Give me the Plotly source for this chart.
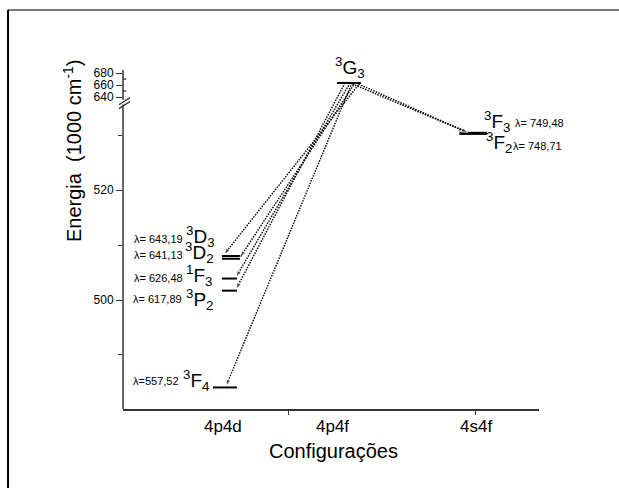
import plotly.graph_objects as go

# ---------------- data ----------------
configurations = ["4p4d", "4p4f", "4s4f"]

upper_term = "3G3"
upper_config = "4p4f"
upper_energy = 663.5  # 1000 cm-1

lower_terms = ["3D3", "3D2", "1F3", "3P2", "3F4", "3F3", "3F2"]
lower_configs = ["4p4d", "4p4d", "4p4d", "4p4d", "4p4d", "4s4f", "4s4f"]
lower_energies = [508.0, 507.5, 503.9, 501.7, 484.1, 530.4, 530.2]
wavelengths = ["643,19", "641,13", "626,48", "617,89", "557,52", "749,48", "748,71"]
lambda_sep = [" ", " ", " ", " ", "", " ", " "]

y_major = [500, 520, 640, 660, 680]
y_minor_lower = [490, 510, 530]
y_minor_upper = [650, 670]

# ---------------- broken axis mapping ----------------
UP_BASE, UP_SCALE = 536.9, 0.109


def disp(v):
    return v if v < 600 else UP_BASE + (v - 640) * UP_SCALE


Y_LO, Y_HI = 480.18, 541.82
X_LO, X_HI = 0.1545, 3.5366
col = {c: i + 1 for i, c in enumerate(configurations)}

FONT = "Liberation Sans, Arial, sans-serif"


def term_html(t):
    return f"<sup>{t[0]}</sup>{t[1]}<sub>{t[2]}</sub>"


# ---------------- layout / style (positions in units of the x axis) ----------------
line_ext = {
    "3G3": (-0.106, 0.089),
    "3D3": (-0.041, 0.122),
    "3D2": (-0.041, 0.106),
    "1F3": (-0.041, 0.081),
    "3P2": (-0.041, 0.081),
    "3F4": (-0.114, 0.081),
    "3F3": (-0.110, 0.114),
    "3F2": (-0.110, 0.114),
}
arrow_off = {  # (start offset on upper column, end offset on lower column)
    "3D3": (0.081, -0.024),
    "3D2": (0.041, 0.106),
    "1F3": (0.0, 0.073),
    "3P2": (-0.041, 0.073),
    "3F4": (0.016, -0.008),
    "3F3": (0.0, -0.065),
    "3F2": (0.049, -0.041),
}
# label pixel offsets: (term_xshift, term_yshift, lam_xshift, lam_yshift)
label_off = {
    "3D3": (-11, 20, -43, 17),
    "3D2": (-12, 6, -43, 4),
    "1F3": (-14, 3, -43, 1),
    "3P2": (-12, -9, -44, -8),
    "3F4": (-17, 7, -47, 6),
    "3F3": (10, 11, 41, 10),
    "3F2": (12, -9, 39, -12),
}

fig = go.Figure()

# energy level lines
all_terms = [upper_term] + lower_terms
all_cfg = [upper_config] + lower_configs
all_e = [upper_energy] + lower_energies
for t, c, e in zip(all_terms, all_cfg, all_e):
    a, b = line_ext[t]
    fig.add_trace(go.Scatter(
        x=[col[c] + a, col[c] + b], y=[disp(e), disp(e)],
        mode="lines", line=dict(color="black", width=2),
        hoverinfo="skip", showlegend=False))

# transitions (dotted arrows)
for t, c, e in zip(lower_terms, lower_configs, lower_energies):
    s, f = arrow_off[t]
    fig.add_trace(go.Scatter(
        x=[col[upper_config] + s, col[c] + f],
        y=[disp(upper_energy), disp(e) + 0.25],
        mode="lines+markers",
        line=dict(color="black", width=1.4, dash="1.5px,1.2px"),
        marker=dict(symbol=["circle", "arrow"], size=[0, 7], color="black",
                    angleref="previous"),
        hoverinfo="skip", showlegend=False))

annotations = []
# term labels and wavelengths
for t, c, e, w, sep in zip(lower_terms, lower_configs, lower_energies, wavelengths, lambda_sep):
    tx, ty, lx, ly = label_off[t]
    anchor = "right" if c == "4p4d" else "left"
    annotations.append(dict(
        x=col[c], y=disp(e), xref="x", yref="y", text=term_html(t),
        showarrow=False, xanchor=anchor, yanchor="middle", borderpad=0,
        xshift=tx, yshift=ty, font=dict(family=FONT, size=19, color="black")))
    annotations.append(dict(
        x=col[c], y=disp(e), xref="x", yref="y", text=f"λ={sep}{w}",
        showarrow=False, xanchor=anchor, yanchor="middle", borderpad=0,
        xshift=lx, yshift=ly, font=dict(family=FONT, size=11, color="black")))

annotations.append(dict(
    x=col[upper_config], y=disp(upper_energy), xref="x", yref="y",
    text=term_html(upper_term), showarrow=False, xanchor="center",
    yanchor="middle", yshift=15, font=dict(family=FONT, size=19, color="black")))

# category labels
cat_shift = [-4, -18, 3]
for c, sh in zip(configurations, cat_shift):
    annotations.append(dict(
        x=col[c], y=-0.053, xref="x", yref="paper", text=c, showarrow=False,
        xanchor="center", yanchor="middle", xshift=sh,
        font=dict(family=FONT, size=17, color="black")))

annotations.append(dict(
    x=0.505, y=-0.124, xref="paper", yref="paper", text="Configurações",
    showarrow=False, xanchor="center", yanchor="middle",
    font=dict(family=FONT, size=20, color="black")))
annotations.append(dict(
    x=-0.1226, y=0.764, xref="paper", yref="paper",
    text="Energia\u00a0\u00a0(1000 cm<sup>-1</sup>)", textangle=-90, showarrow=False,
    xanchor="center", yanchor="middle",
    font=dict(family=FONT, size=20, color="black")))

AX = "#333333"
shapes = [
    # y-axis segments (broken)
    dict(type="line", xref="paper", yref="y", x0=0, x1=0, y0=Y_LO, y1=535.55,
         line=dict(color=AX, width=1.5)),
    dict(type="line", xref="paper", yref="y", x0=0, x1=0, y0=536.4, y1=Y_HI,
         line=dict(color=AX, width=1.5)),
    # break marks
    dict(type="line", xref="paper", yref="y", x0=-0.0096, x1=0.0168,
         y0=535.5, y1=536.8, line=dict(color=AX, width=1.3)),
    dict(type="line", xref="paper", yref="y", x0=-0.0096, x1=0.0168,
         y0=534.8, y1=536.1, line=dict(color=AX, width=1.3)),
    # outer frame
    dict(type="line", xref="paper", yref="paper", x0=-0.2764, x1=1.2, y0=1.177, y1=1.177,
         line=dict(color="#777777", width=2)),
    dict(type="line", xref="paper", yref="paper", x0=-0.2764, x1=-0.2764, y0=1.177, y1=-0.3,
         line=dict(color="black", width=2)),
]
for v in y_minor_upper:
    shapes.append(dict(type="line", xref="paper", yref="y", x0=0, x1=0.008,
                       y0=disp(v), y1=disp(v), line=dict(color=AX, width=1.3)))

fig.update_layout(
    width=619, height=488,
    margin=dict(l=123, r=80, t=70, b=79),
    paper_bgcolor="white", plot_bgcolor="white",
    showlegend=False,
    font=dict(family=FONT, color="black"),
    xaxis=dict(range=[X_LO, X_HI], showline=True, linecolor=AX, linewidth=1.5,
               ticks="outside", ticklen=4, tickwidth=1.3, tickcolor=AX,
               tickvals=[1.5, 3.024], showticklabels=False,
               showgrid=False, zeroline=False),
    yaxis=dict(range=[Y_LO, Y_HI], showline=False,
               ticks="outside", ticklen=6, tickwidth=1.3, tickcolor=AX,
               tickvals=[disp(v) for v in y_major],
               ticktext=[str(v) for v in y_major],
               tickfont=dict(family=FONT, size=12, color="black"),
               minor=dict(tickmode="array", tickvals=[disp(v) for v in y_minor_lower],
                          ticks="outside", ticklen=4, tickwidth=1.3, tickcolor=AX),
               showgrid=False, zeroline=False),
    annotations=annotations,
    shapes=shapes,
)

fig.write_html("out.html")
